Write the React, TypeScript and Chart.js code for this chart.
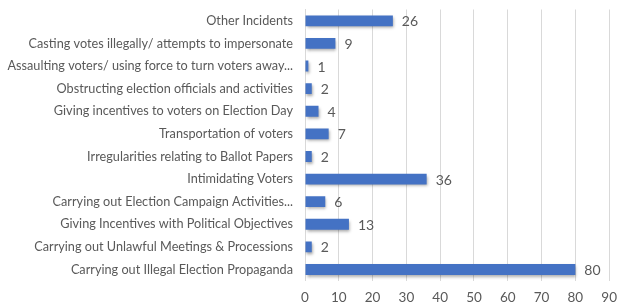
import React, { useEffect, useRef } from "react";
import { Chart, registerables } from "chart.js";

Chart.register(...registerables);

const categories = [
  "Other Incidents",
  "Casting votes illegally/ attempts to impersonate",
  "Assaulting voters/ using force to turn voters away...",
  "Obstructing election officials and activities",
  "Giving incentives to voters on Election Day",
  "Transportation of voters",
  "Irregularities relating to Ballot Papers",
  "Intimidating Voters",
  "Carrying out Election Campaign Activities...",
  "Giving Incentives with Political Objectives",
  "Carrying out Unlawful Meetings & Processions",
  "Carrying out Illegal Election Propaganda",
];
const values = [26, 9, 1, 2, 4, 7, 2, 36, 6, 13, 2, 80];
const xMin = 0;
const xMax = 90;
const xStep = 10;

const FONT = "Lato, 'Open Sans', sans-serif";
const TEXT = "#595959";

const barShadow = {
  id: "barShadow",
  beforeDatasetsDraw(chart: any) {
    const ctx = chart.ctx;
    ctx.save();
    ctx.shadowColor = "rgba(0,0,0,0.35)";
    ctx.shadowBlur = 3;
    ctx.shadowOffsetX = 1;
    ctx.shadowOffsetY = 2;
  },
  afterDatasetsDraw(chart: any) {
    chart.ctx.restore();
  },
};

const valueLabels = {
  id: "valueLabels",
  afterDatasetsDraw(chart: any) {
    const ctx = chart.ctx;
    const meta = chart.getDatasetMeta(0);
    ctx.save();
    ctx.shadowColor = "rgba(0,0,0,0)";
    ctx.font = `14px ${FONT}`;
    ctx.fillStyle = TEXT;
    ctx.textAlign = "left";
    ctx.textBaseline = "middle";
    meta.data.forEach((el: any, i: number) => {
      ctx.fillText(String(values[i]), el.x + 9, el.y + 1);
    });
    ctx.restore();
  },
};

export default function App() {
  const ref = useRef<HTMLCanvasElement>(null);
  useEffect(() => {
    document.body.style.margin = "0";
    const chart = new Chart(ref.current!, {
      type: "bar",
      data: {
        labels: categories,
        datasets: [
          {
            data: values,
            backgroundColor: "#4472C4",
            borderWidth: 0,
            barPercentage: 0.48,
            categoryPercentage: 1,
          },
        ],
      },
      options: {
        indexAxis: "y",
        animation: false,
        responsive: false,
        maintainAspectRatio: false,
        layout: { padding: { top: 9.5, right: 11, left: 0, bottom: -9 } },
        plugins: { legend: { display: false }, tooltip: { enabled: false } },
        scales: {
          x: {
            min: xMin,
            max: xMax,
            ticks: { stepSize: xStep, color: TEXT, font: { family: FONT, size: 13.5 }, padding: 9 },
            grid: { color: "#d9d9d9", drawTicks: false },
            border: { display: false },
          },
          y: {
            afterFit(scale: any) {
              scale.width = 305;
              scale.paddingTop = 0;
              scale.paddingBottom = 0;
            },
            ticks: { color: TEXT, font: { family: FONT, size: 12.7 }, padding: 12, autoSkip: false },
            grid: { display: false, drawTicks: false },
            border: { display: true, color: "#d9d9d9" },
          },
        },
      },
      plugins: [barShadow, valueLabels],
    });
    return () => chart.destroy();
  }, []);
  return (
    <div style={{ width: 626, height: 306 }}>
      <canvas ref={ref} width={626} height={306} />
    </div>
  );
}
